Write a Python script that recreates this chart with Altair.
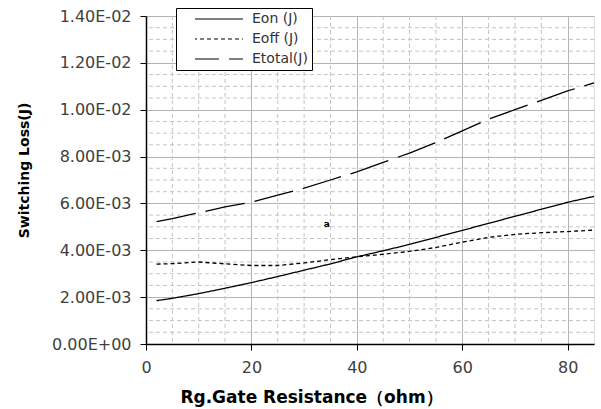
import altair as alt
import pandas as pd

# Data
rg = [2, 5, 10, 15, 20, 25, 30, 35, 40, 45, 50, 55, 60, 65, 70, 75, 80, 85]
eon = [1.85, 1.95, 2.15, 2.38, 2.62, 2.88, 3.15, 3.42, 3.72, 3.98, 4.25, 4.55, 4.85, 5.15, 5.45, 5.75, 6.05, 6.30]
eoff = [3.41, 3.43, 3.50, 3.42, 3.35, 3.35, 3.46, 3.60, 3.72, 3.83, 3.95, 4.12, 4.35, 4.55, 4.68, 4.75, 4.80, 4.86]
etotal = [5.22, 5.35, 5.60, 5.85, 6.05, 6.35, 6.65, 7.00, 7.35, 7.75, 8.15, 8.60, 9.10, 9.60, 10.00, 10.40, 10.80, 11.15]
series_names = ["Eon (J)", "Eoff (J)", "Etotal(J)"]

x_major = [0, 20, 40, 60, 80]
y_major = [0, 0.002, 0.004, 0.006, 0.008, 0.010, 0.012, 0.014]
x_minor = [5, 10, 15, 25, 30, 35, 45, 50, 55, 65, 70, 75]
y_minor = [0.0005, 0.001, 0.0015, 0.0025, 0.003, 0.0035, 0.0045, 0.005, 0.0055,
           0.0065, 0.007, 0.0075, 0.0085, 0.009, 0.0095, 0.0105, 0.011, 0.0115,
           0.0125, 0.013, 0.0135]

note_x = [34.3]
note_y = [0.00512]
note_text = ["a"]

rows = []
for name, vals in zip(series_names, [eon, eoff, etotal]):
    for xv, yv in zip(rg, vals):
        rows.append({"rg": xv, "loss": yv * 1e-3, "series": name})
df = pd.DataFrame(rows)

xscale = alt.Scale(domain=[0, 85], nice=False, zero=False)
yscale = alt.Scale(domain=[0, 0.014], nice=False)

minor_color = "#c4c4c4"

vgrid = alt.Chart(pd.DataFrame({"x": x_minor})).mark_rule(
    color=minor_color, strokeWidth=1, strokeDash=[4, 3]
).encode(x=alt.X("x:Q", scale=xscale))

hgrid = alt.Chart(pd.DataFrame({"y": y_minor})).mark_rule(
    color=minor_color, strokeWidth=1, strokeDash=[4, 3]
).encode(y=alt.Y("y:Q", scale=yscale))

lines = alt.Chart(df).mark_line(color="black", strokeWidth=1.3).encode(
    x=alt.X(
        "rg:Q",
        scale=xscale,
        axis=alt.Axis(
            values=x_major,
            title="Rg.Gate Resistance（ohm）",
            titleFont="DejaVu Sans",
            titleFontSize=17,
            titleFontWeight="bold",
            titleColor="black",
            titleX=165,
            titleY=58,
            titleAlign="center",
            titleBaseline="alphabetic",
            labelFont="DejaVu Sans",
            labelFontSize=16,
            labelColor="#404040",
            labelPadding=9,
            tickSize=6,
            tickColor="black",
            domainColor="black",
            domainWidth=1.5,
            gridColor="#b4b4b4",
            gridWidth=1,
            labelFlush=False,
        ),
    ),
    y=alt.Y(
        "loss:Q",
        scale=yscale,
        axis=alt.Axis(
            values=y_major,
            labelExpr="replace(replace(format(datum.value, '.2e'), 'e-', 'E-0'), 'e+', 'E+0')",
            title="Switching Loss(J)",
            titleFont="DejaVu Sans",
            titleFontSize=14,
            titleFontWeight="bold",
            titleColor="black",
            titleX=-118,
            titleY=154,
            titleAngle=-90,
            titleAlign="center",
            titleBaseline="alphabetic",
            labelFont="DejaVu Sans",
            labelFontSize=16,
            labelColor="#404040",
            labelPadding=9,
            tickSize=6,
            tickColor="black",
            domainColor="black",
            domainWidth=1.5,
            gridColor="#b4b4b4",
            gridWidth=1,
            labelFlush=False,
        ),
    ),
    strokeDash=alt.StrokeDash(
        "series:N",
        scale=alt.Scale(domain=series_names, range=[[1, 0], [4, 3], [40, 10]]),
        sort=series_names,
        legend=alt.Legend(
            title=None,
            orient="none",
            legendX=30,
            legendY=-8,
            fillColor="white",
            strokeColor="black",
            padding=4,
            clipHeight=14,
            symbolType="stroke",
            symbolSize=2304,
            symbolStrokeColor="black",
            symbolStrokeWidth=1.2,
            symbolDashOffset=16,
            symbolOffset=14,
            labelFont="DejaVu Sans",
            labelFontSize=14,
            labelColor="#333333",
            labelOffset=8,
            rowPadding=6,
        ),
    ),
    order="rg:Q",
)

note = alt.Chart(pd.DataFrame({"x": note_x, "y": note_y, "t": note_text})).mark_text(
    fontSize=9, font="DejaVu Sans", fontWeight="bold", color="black"
).encode(x=alt.X("x:Q", scale=xscale), y=alt.Y("y:Q", scale=yscale), text="t:N")

chart = alt.layer(vgrid, hgrid, lines, note).properties(
    width=448,
    height=328,
    padding={"left": 146, "top": 16, "right": 7, "bottom": 65},
    autosize=alt.AutoSizeParams(type="none"),
).configure_view(stroke="#a0a0a0", strokeWidth=1).configure(background="white")

chart.save("out.html", embed_options={"renderer": "svg", "actions": False})
